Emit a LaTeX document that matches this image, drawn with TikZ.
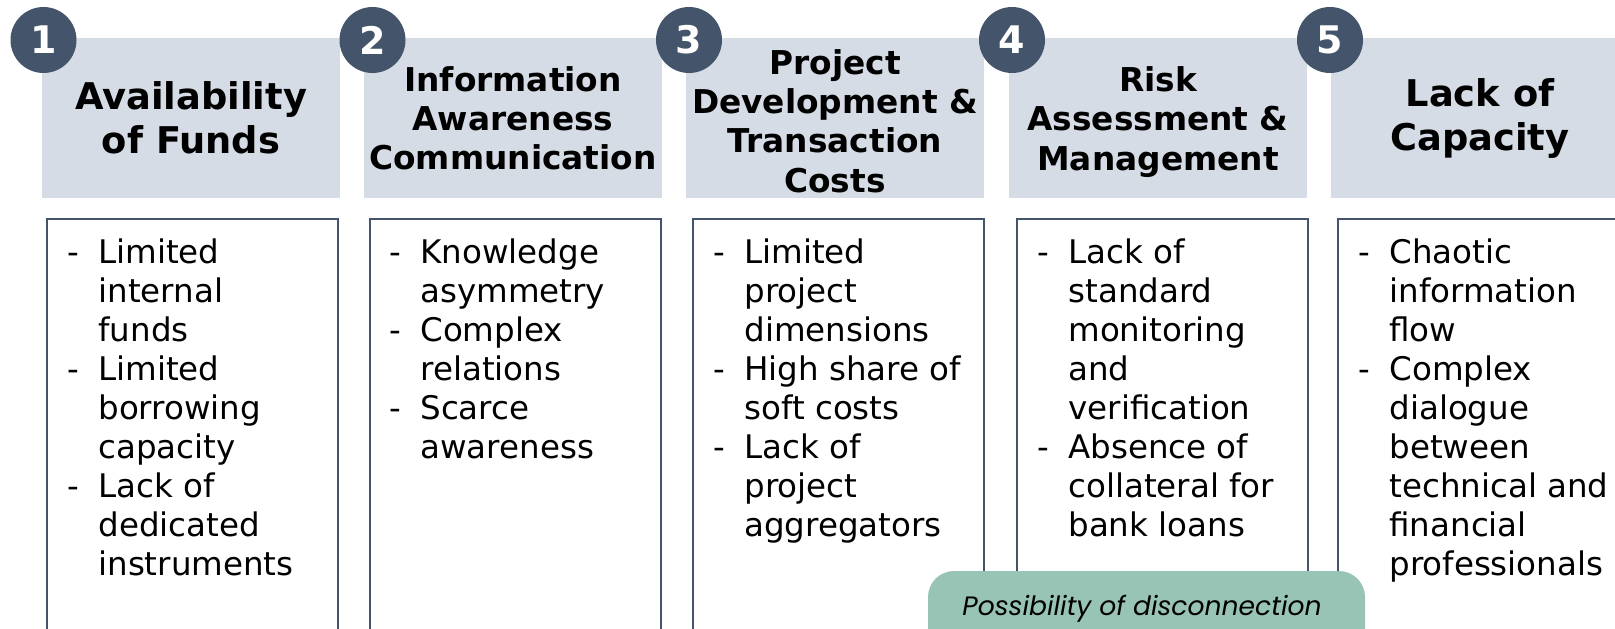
\documentclass[tikz,border=0pt]{standalone}
\usepackage{fontspec}
\usepackage{array}
\setmainfont{DejaVu Sans}
\newfontfamily\notefont{Poppins}
\definecolor{slate}{HTML}{44546A}
\definecolor{headfill}{HTML}{D6DCE5}
\definecolor{notegreen}{HTML}{97C4B5}

\begin{document}
\begin{tikzpicture}[x=0.5pt, y=-0.5pt,
    headbox/.style={fill=headfill, minimum width=149pt, minimum height=80pt,
      inner sep=0pt, align=center, font=\bfseries\fontsize{16.4}{19.6}\selectfont},
    bigheadbox/.style={headbox, font=\bfseries\fontsize{18.4}{22}\selectfont},
    headtext/.style={inner sep=0pt, align=center, font=\bfseries\fontsize{16.4}{19.6}\selectfont},
    numdot/.style={circle, fill=slate, minimum size=33pt, inner sep=0pt,
      text=white, font=\bfseries\fontsize{19}{22}\selectfont},
    listbox/.style={draw=slate, line width=1pt, minimum width=145.5pt,
      minimum height=215.5pt, inner sep=0pt},
    listtext/.style={anchor=base west, inner sep=0pt, font=\fontsize{16.25}{19.55}\selectfont},
    notebox/.style={fill=notegreen, rounded corners=13pt, minimum width=218.5pt,
      minimum height=55pt, inner sep=0pt},
    notetext/.style={anchor=base, inner sep=0pt, font=\notefont\itshape\fontsize{13.3}{16}\selectfont}
  ]
  \useasboundingbox (0,0) rectangle (1615,628);

  % headers
  \node[bigheadbox] (h1) at (191,118) {Availability\\of Funds};
  \node[headbox] (h2) at (513,118) {Information\\Awareness\\Communication};
  \node[headbox] (h3) at (835,118) {};
  \node[headtext] (h3text) at (835,121) {Project\\Development \&\\Transaction\\Costs};
  \node[headbox] (h4) at (1158,118) {};
  \node[headtext] (h4text) at (1158,122) {Risk\\Assessment \&\\Management};
  \node[bigheadbox] (h5) at (1480,118) {Lack of\\Capacity};

  % numbers
  \node[numdot] (n1) at (43.5,40) {1};
  \node[numdot] (n2) at (372.5,40) {2};
  \node[numdot] (n3) at (689,40) {3};
  \node[numdot] (n4) at (1012,40) {4};
  \node[numdot] (n5) at (1330,40) {5};

  % lists
  \node[listbox] (b1) at (192.5,434.5) {};
  \node[listbox] (b2) at (515.5,434.5) {};
  \node[listbox] (b3) at (838.5,434.5) {};
  \node[listbox] (b4) at (1162,434.5) {};
  \node[listbox] (b5) at (1483.5,434.5) {};

  \node[listtext] (t1) at (67,263) {\begin{tabular}[t]{@{}p{15.5pt}@{}l@{}}
    - & Limited\\ & internal\\ & funds\\
    - & Limited\\ & borrowing\\ & capacity\\
    - & Lack of\\ & dedicated\\ & instruments
  \end{tabular}};
  \node[listtext] (t2) at (389,263) {\begin{tabular}[t]{@{}p{15.5pt}@{}l@{}}
    - & Knowledge\\ & asymmetry\\
    - & Complex\\ & relations\\
    - & Scarce\\ & awareness
  \end{tabular}};
  \node[listtext] (t3) at (713,263) {\begin{tabular}[t]{@{}p{15.5pt}@{}l@{}}
    - & Limited\\ & project\\ & dimensions\\
    - & High share of\\ & soft costs\\
    - & Lack of\\ & project\\ & aggregators
  \end{tabular}};
  \node[listtext] (t4) at (1037,263) {\begin{tabular}[t]{@{}p{15.5pt}@{}l@{}}
    - & Lack of\\ & standard\\ & monitoring\\ & and\\ & verification\\
    - & Absence of\\ & collateral for\\ & bank loans
  \end{tabular}};
  \node[listtext] (t5) at (1358,263) {\begin{tabular}[t]{@{}p{15.5pt}@{}l@{}}
    - & Chaotic\\ & information\\ & flow\\
    - & Complex\\ & dialogue\\ & between\\ & technical and\\ & financial\\ & professionals
  \end{tabular}};

  % note
  \node[notebox] (note) at (1146.5,626) {};
  \node[notetext] (notelabel) at (1142,615) {Possibility of disconnection};
\end{tikzpicture}
\end{document}
